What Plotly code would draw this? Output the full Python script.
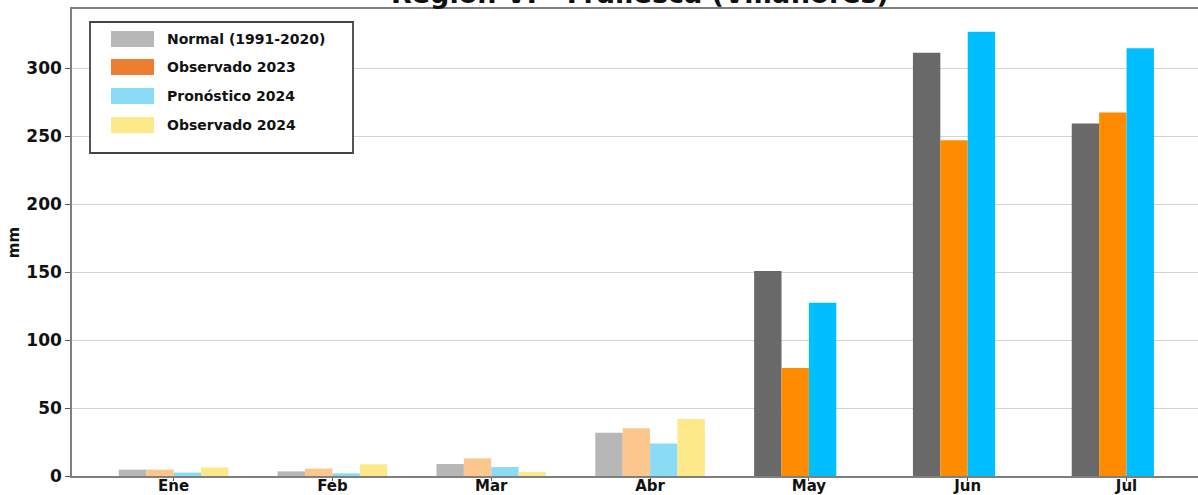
import plotly.graph_objects as go

months = ["Ene", "Feb", "Mar", "Abr", "May", "Jun", "Jul"]
normal = [4.7, 3.4, 8.8, 31.9, 150.8, 311.4, 259.3]
obs2023 = [4.7, 5.4, 13.0, 35.1, 79.4, 246.9, 267.3]
pron2024 = [2.5, 2.0, 6.6, 23.9, 127.5, 326.8, 314.6]
obs2024 = [6.4, 8.6, 2.9, 41.9, None, None, None]

series_names = ["Normal (1991-2020)", "Observado 2023", "Pronóstico 2024", "Observado 2024"]
light_colors = ["#b7b7b7", "#fbc78d", "#8adcf6", "#fde88a"]
strong_colors = ["#696969", "#ff8c00", "#00bfff", "#fde88a"]
legend_colors = ["#b7b7b7", "#ed7d31", "#8adcf6", "#fde88a"]
n_light = 4  # Ene-Abr drawn in light tones

FONT = "DejaVu Sans"

fig = go.Figure()
for i, (name, vals) in enumerate(zip(series_names, [normal, obs2023, pron2024, obs2024])):
    cols = [light_colors[i] if k < n_light else strong_colors[i] for k in range(len(months))]
    fig.add_trace(go.Bar(
        x=months, y=vals, name=name,
        marker=dict(color=cols, line=dict(width=0)),
        showlegend=False,
    ))

# Manual legend (wide swatches like the reference)
W, H = 1198, 495
ml, mr, mt, mb = 72, 0, 9, 19
pw, ph = W - ml - mr, H - mt - mb

def px(x):
    return (x - ml) / pw

def py(y):
    return 1 - (y - mt) / ph

shapes = []
annotations = []
shapes.append(dict(type="rect", xref="paper", yref="paper",
                   x0=px(90), x1=px(353), y0=py(153), y1=py(22),
                   line=dict(color="#444444", width=1.8), fillcolor="white", layer="above"))
rows = [39, 67, 96, 125]
for i, name in enumerate(series_names):
    yc = rows[i]
    shapes.append(dict(type="rect", xref="paper", yref="paper",
                       x0=px(111), x1=px(154), y0=py(yc + 8), y1=py(yc - 8),
                       line=dict(width=0), fillcolor=legend_colors[i], layer="above"))
    annotations.append(dict(text=name, xref="paper", yref="paper",
                            x=px(165), y=py(yc), xanchor="left", yanchor="middle",
                            showarrow=False,
                            font=dict(family=FONT, size=14, color="#111111", weight="bold")))

annotations.append(dict(text="Región VI - Frailesca (Villaflores)", xref="paper", yref="paper",
                        x=px(640), y=1, xanchor="center", yanchor="bottom", yshift=-2,
                        showarrow=False,
                        font=dict(family=FONT, size=27, color="#111111", weight="bold")))

fig.update_layout(
    width=W, height=H,
    margin=dict(l=ml, r=mr, t=mt, b=mb, autoexpand=False),
    paper_bgcolor="white", plot_bgcolor="white",
    barmode="group", bargap=0.31, bargroupgap=0,
    font=dict(family=FONT, color="#111111"),
    shapes=shapes, annotations=annotations,
    showlegend=False,
)
fig.update_xaxes(
    type="category", range=[-0.64, 6.45],
    showline=True, linecolor="#7f7f7f", linewidth=1.5, mirror=True,
    ticks="outside", ticklen=3, tickcolor="#555555",
    tickfont=dict(family=FONT, size=15, color="#111111", weight="bold"),
    ticklabelstandoff=-8,
    showgrid=False, automargin=False,
)
fig.update_yaxes(
    range=[0, 343.5], tickvals=[0, 50, 100, 150, 200, 250, 300],
    showline=True, linecolor="#7f7f7f", linewidth=1.5,
    ticks="outside", ticklen=5, tickcolor="#555555",
    tickfont=dict(family=FONT, size=17, color="#111111", weight="bold"),
    showgrid=True, gridcolor="#d3d3d3", gridwidth=1,
    zeroline=False, automargin=False,
    title=dict(text="mm", font=dict(family=FONT, size=15, color="#111111", weight="bold"), standoff=3),
)

fig.write_html("out.html", config={"displayModeBar": False},
               post_script="document.body.style.margin='0';document.body.style.overflow='hidden';")
